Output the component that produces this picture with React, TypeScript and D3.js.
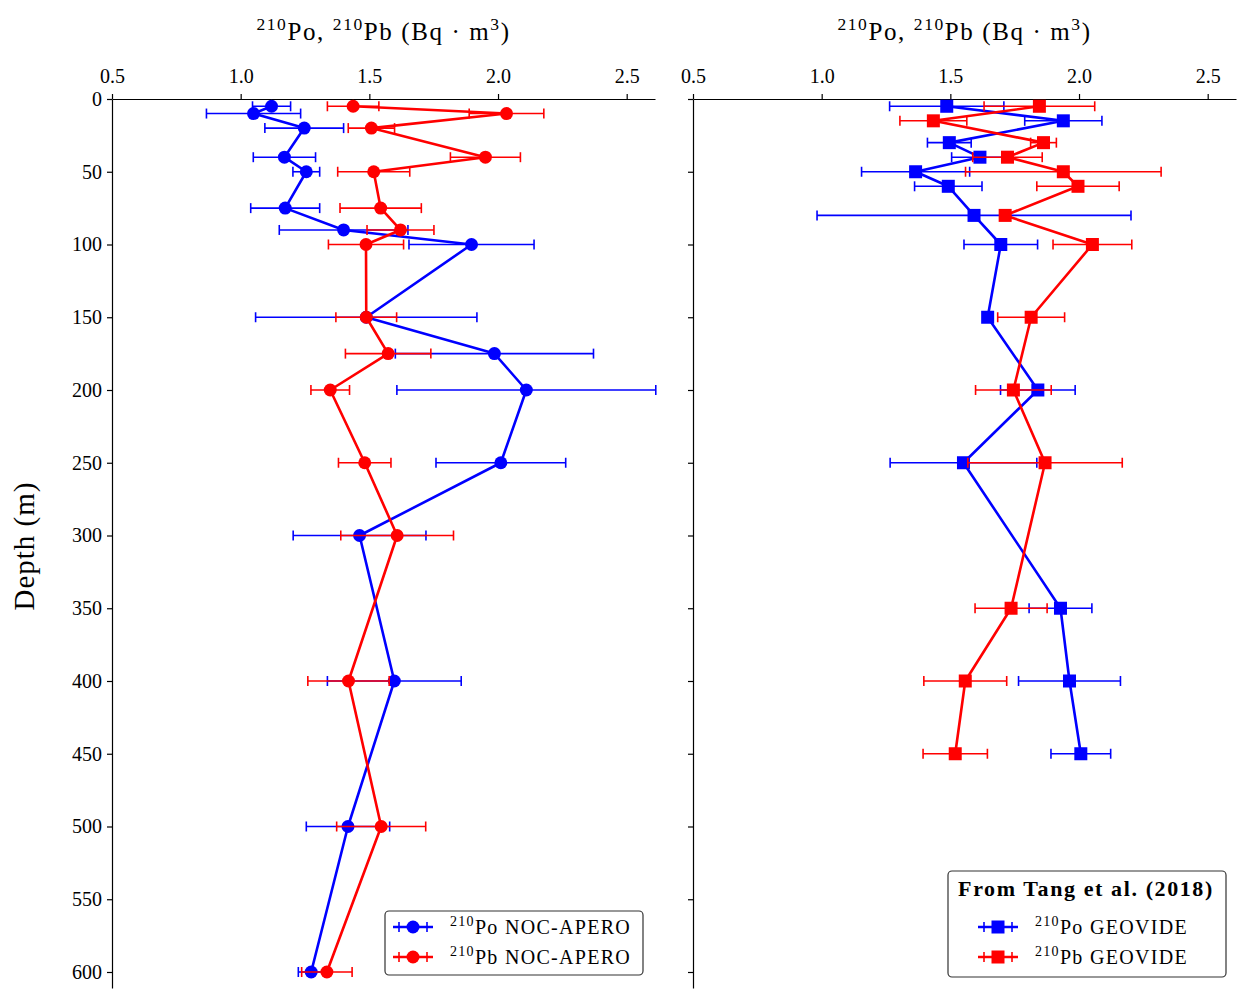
import React, { useRef, useEffect } from 'react';
import * as d3 from 'd3';

// NOC-APERO profile (left panel)
const nocDepth = [5, 10, 20, 40, 50, 75, 90, 100, 150, 175, 200, 250, 300, 400, 500, 600];
const nocPo = [1.12, 1.05, 1.247, 1.17, 1.255, 1.173, 1.4, 1.897, 1.488, 1.986, 2.11, 2.011, 1.462, 1.597, 1.417, 1.274];
const nocPoErr = [0.074, 0.183, 0.153, 0.121, 0.052, 0.134, 0.25, 0.243, 0.43, 0.385, 0.503, 0.252, 0.258, 0.26, 0.162, 0.05];
const nocPb = [1.437, 2.033, 1.508, 1.951, 1.517, 1.544, 1.621, 1.487, 1.488, 1.573, 1.348, 1.482, 1.608, 1.419, 1.546, 1.335];
const nocPbErr = [0.1, 0.145, 0.09, 0.136, 0.14, 0.158, 0.13, 0.146, 0.118, 0.166, 0.075, 0.102, 0.219, 0.158, 0.173, 0.098];

// GEOVIDE profile, Tang et al. 2018 (right panel)
const geoDepth = [5, 15, 30, 40, 50, 60, 80, 100, 150, 200, 250, 350, 400, 450];
const geoPo = [1.486, 1.939, 1.496, 1.615, 1.365, 1.492, 1.592, 1.696, 1.645, 1.84, 1.551, 1.928, 1.963, 2.007];
const geoPoErr = [0.222, 0.15, 0.085, 0.11, 0.21, 0.131, 0.61, 0.143, 0.01, 0.145, 0.285, 0.122, 0.198, 0.116];
const geoPb = [1.846, 1.434, 1.862, 1.722, 1.939, 1.996, 1.713, 2.052, 1.814, 1.745, 1.868, 1.736, 1.558, 1.519];
const geoPbErr = [0.215, 0.13, 0.05, 0.135, 0.38, 0.16, 0.02, 0.153, 0.13, 0.147, 0.3, 0.14, 0.161, 0.125];

const xTicks = [0.5, 1.0, 1.5, 2.0, 2.5];
const yTicks = [0, 50, 100, 150, 200, 250, 300, 350, 400, 450, 500, 550, 600];

const BLUE = '#0000ff';
const RED = '#ff0000';
const FONT = '"Liberation Serif", "DejaVu Serif", serif';

// write text made of normal / superscript pieces
function richText(sel, parts, size) {
  const shift = size * 0.42;
  let up = false;
  parts.forEach(([str, sup]) => {
    const t = sel.append('tspan').text(str);
    if (sup) {
      t.attr('font-size', size * 0.7);
      if (!up) t.attr('dy', -shift);
      up = true;
    } else {
      t.attr('font-size', size);
      if (up) t.attr('dy', shift);
      up = false;
    }
  });
}

const App = () => {
  const svgRef = useRef();

  useEffect(() => {
    const svg = d3.select(svgRef.current);
    svg.selectAll('*').remove();

    const width = 543;
    const height = 889;
    const x = d3.scaleLinear().domain([0.5, 2.61]).range([0, width]);
    const y = d3.scaleLinear().domain([0, 611]).range([0, height]);

    const panels = [
      {
        left: 112, showY: true,
        series: [
          { depth: nocDepth, val: nocPo, err: nocPoErr, color: BLUE, marker: 'circle' },
          { depth: nocDepth, val: nocPb, err: nocPbErr, color: RED, marker: 'circle' },
        ],
      },
      {
        left: 693, showY: false,
        series: [
          { depth: geoDepth, val: geoPo, err: geoPoErr, color: BLUE, marker: 'square' },
          { depth: geoDepth, val: geoPb, err: geoPbErr, color: RED, marker: 'square' },
        ],
      },
    ];

    panels.forEach(p => {
      const g = svg.append('g').attr('transform', `translate(${p.left},99)`);

      // x axis on top
      const xa = g.append('g').call(d3.axisTop(x).tickValues(xTicks).tickFormat(d3.format('.1f')).tickSize(5).tickSizeOuter(0).tickPadding(11));
      // y axis
      const ya = g.append('g').call(d3.axisLeft(y).tickValues(yTicks).tickSize(5).tickSizeOuter(0).tickPadding(5)
        .tickFormat(p.showY ? d3.format('d') : () => ''));
      [xa, ya].forEach(a => {
        a.select('.domain').attr('stroke', '#000').attr('stroke-width', 1.2);
        a.selectAll('.tick line').attr('stroke', '#000').attr('stroke-width', 1.2);
        a.selectAll('.tick text').attr('font-family', FONT).attr('font-size', 20).attr('fill', '#000');
      });

      // title above top axis
      const title = g.append('text')
        .attr('x', width / 2)
        .attr('y', -59)
        .attr('text-anchor', 'middle')
        .attr('font-family', FONT)
        .attr('letter-spacing', 1.6)
        .attr('fill', '#000');
      richText(title, [['210', true], ['Po, ', false], ['210', true], ['Pb (Bq · m', false], ['3', true], [')', false]], 25);

      p.series.forEach(s => {
        const pts = s.depth.map((d, i) => ({ d, v: s.val[i], e: s.err[i] }));
        const sg = g.append('g');

        // error bars
        sg.selectAll('.bar').data(pts).enter().append('line')
          .attr('x1', d => x(d.v - d.e)).attr('x2', d => x(d.v + d.e))
          .attr('y1', d => y(d.d)).attr('y2', d => y(d.d))
          .attr('stroke', s.color).attr('stroke-width', 1.6);
        pts.forEach(d => {
          [d.v - d.e, d.v + d.e].forEach(c => {
            sg.append('line')
              .attr('x1', x(c)).attr('x2', x(c))
              .attr('y1', y(d.d) - 5).attr('y2', y(d.d) + 5)
              .attr('stroke', s.color).attr('stroke-width', 1.6);
          });
        });

        // profile line
        const line = d3.line().x(d => x(d.v)).y(d => y(d.d));
        sg.append('path').datum(pts)
          .attr('d', line)
          .attr('fill', 'none')
          .attr('stroke', s.color)
          .attr('stroke-width', 2.6)
          .attr('stroke-linejoin', 'round');

        // markers
        if (s.marker === 'circle') {
          sg.selectAll('.pt').data(pts).enter().append('circle')
            .attr('cx', d => x(d.v)).attr('cy', d => y(d.d)).attr('r', 6.5)
            .attr('fill', s.color);
        } else {
          sg.selectAll('.pt').data(pts).enter().append('rect')
            .attr('x', d => x(d.v) - 6.5).attr('y', d => y(d.d) - 6.5)
            .attr('width', 13).attr('height', 13)
            .attr('fill', s.color);
        }
      });
    });

    // y label
    svg.append('text')
      .attr('transform', 'translate(34,546) rotate(-90)')
      .attr('text-anchor', 'middle')
      .attr('font-family', FONT)
      .attr('font-size', 29)
      .attr('letter-spacing', 1)
      .attr('fill', '#000')
      .text('Depth (m)');

    // legends
    const legendItem = (lg, x0, yy, color, marker, label) => {
      lg.append('line').attr('x1', x0).attr('x2', x0 + 40).attr('y1', yy).attr('y2', yy)
        .attr('stroke', color).attr('stroke-width', 2.6);
      [x0 + 6, x0 + 34].forEach(cx => {
        lg.append('line').attr('x1', cx).attr('x2', cx).attr('y1', yy - 5).attr('y2', yy + 5)
          .attr('stroke', color).attr('stroke-width', 1.6);
      });
      if (marker === 'circle') {
        lg.append('circle').attr('cx', x0 + 20).attr('cy', yy).attr('r', 6.5).attr('fill', color);
      } else {
        lg.append('rect').attr('x', x0 + 13.5).attr('y', yy - 6.5).attr('width', 13).attr('height', 13).attr('fill', color);
      }
      const t = lg.append('text').attr('x', x0 + 57).attr('y', yy + 7)
        .attr('font-family', FONT).attr('letter-spacing', 1.3).attr('fill', '#000');
      richText(t, [['210', true], [label, false]], 20);
    };

    const lg1 = svg.append('g');
    lg1.append('rect').attr('x', 385).attr('y', 911).attr('width', 258).attr('height', 64).attr('rx', 4)
      .attr('fill', '#fff').attr('stroke', '#333').attr('stroke-width', 1.2);
    legendItem(lg1, 393, 927, BLUE, 'circle', 'Po NOC-APERO');
    legendItem(lg1, 393, 957, RED, 'circle', 'Pb NOC-APERO');

    const lg2 = svg.append('g');
    lg2.append('rect').attr('x', 948).attr('y', 871).attr('width', 278).attr('height', 106).attr('rx', 4)
      .attr('fill', '#fff').attr('stroke', '#333').attr('stroke-width', 1.2);
    lg2.append('text').attr('x', 1086).attr('y', 896).attr('text-anchor', 'middle')
      .attr('font-family', FONT).attr('font-size', 22).attr('font-weight', 'bold')
      .attr('letter-spacing', 1.6).attr('fill', '#000')
      .text('From Tang et al. (2018)');
    legendItem(lg2, 978, 927, BLUE, 'square', 'Po GEOVIDE');
    legendItem(lg2, 978, 957, RED, 'square', 'Pb GEOVIDE');
  }, []);

  return (
    <svg ref={svgRef} width={1240} height={990} style={{ position: 'absolute', left: 0, top: 0, background: '#fff' }}></svg>
  );
};

export default App;
